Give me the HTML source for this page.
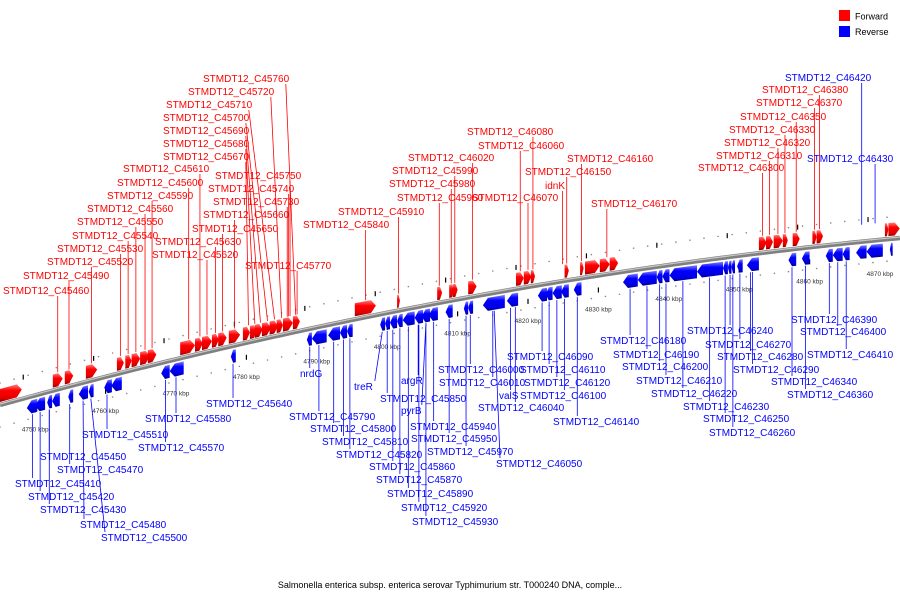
<!DOCTYPE html>
<html><head><meta charset="utf-8"><style>
html,body{margin:0;padding:0;background:#fff;}
svg{display:block;font-family:"Liberation Sans",sans-serif;}
</style></head><body>
<svg id="chart" width="900" height="600" viewBox="0 0 900 600">
<defs>
<linearGradient id="gr" x1="0" y1="0" x2="0" y2="1"><stop offset="0" stop-color="#ff8080"/><stop offset="0.35" stop-color="#ff0000"/><stop offset="0.8" stop-color="#e00000"/><stop offset="1" stop-color="#800000"/></linearGradient>
<linearGradient id="gb" x1="0" y1="0" x2="0" y2="1"><stop offset="0" stop-color="#8080ff"/><stop offset="0.35" stop-color="#0000ff"/><stop offset="0.8" stop-color="#0000e0"/><stop offset="1" stop-color="#000080"/></linearGradient>
</defs>
<g>
<rect x="839" y="10" width="11" height="11" fill="#ff0000"/>
<text x="855" y="19.5" font-size="9" fill="#000">Forward</text>
<rect x="839" y="26" width="11" height="11" fill="#0000ff"/>
<text x="855" y="35" font-size="9" fill="#000">Reverse</text>
</g>
<text x="450" y="588" font-size="9" text-anchor="middle" fill="#000">Salmonella enterica subsp. enterica serovar Typhimurium str. T000240 DNA, comple...</text>
<g id="layer"></g>
</svg>
<script>
const fwdStart=[4745.0,4752.5,4754.2,4757.2,4761.6,4762.8,4763.7,4764.9,4766.0,4770.6,4772.7,4773.7,4775.1,4776.0,4777.5,4779.5,4780.5,4781.2,4782.2,4783.3,4784.3,4785.2,4786.6,4795.4,4801.4,4807.1,4808.8,4809.3,4811.5,4818.3,4819.4,4820.4,4825.2,4827.4,4828.1,4830.2,4831.6,4852.8,4853.8,4854.9,4856.2,4857.6,4860.4,4861.0,4870.7,4871.2];
const fwdEnd=[4748.1,4753.9,4755.4,4758.8,4762.6,4763.7,4764.9,4766.3,4767.2,4772.7,4773.8,4775.1,4776.1,4777.2,4779.1,4780.5,4781.5,4782.3,4783.5,4784.5,4785.2,4786.6,4787.6,4798.4,4801.8,4807.8,4809.5,4810.0,4812.7,4819.4,4820.5,4821.0,4825.8,4827.9,4830.2,4831.6,4832.8,4853.9,4854.8,4856.2,4856.9,4858.6,4861.0,4861.9,4871.2,4872.8];
const revStart=[4748.8,4750.0,4751.7,4752.4,4754.7,4756.2,4757.6,4759.8,4760.8,4767.9,4769.1,4777.8,4788.6,4789.3,4791.6,4793.3,4794.3,4799.0,4799.7,4800.4,4801.4,4802.2,4803.9,4804.9,4805.9,4808.3,4810.9,4811.5,4813.6,4817.0,4821.4,4822.5,4823.5,4824.7,4826.5,4833.5,4835.6,4838.3,4839.1,4840.1,4844.0,4847.7,4848.4,4848.9,4849.7,4851.1,4857.0,4858.9,4862.3,4863.3,4864.7,4866.6,4868.1,4871.4];
const revEnd=[4750.3,4751.4,4752.4,4753.5,4755.4,4757.5,4758.3,4760.9,4762.3,4769.1,4771.1,4778.5,4789.3,4791.4,4793.3,4794.3,4795.1,4799.7,4800.4,4801.4,4802.2,4803.9,4805.1,4806.1,4807.2,4809.3,4811.5,4812.2,4816.7,4818.6,4822.7,4823.5,4824.8,4825.8,4827.6,4835.6,4838.3,4839.1,4840.1,4844.0,4847.7,4848.4,4848.9,4849.4,4850.5,4852.8,4858.1,4860.0,4863.3,4864.7,4865.7,4868.1,4870.4,4871.8];
const tickKbp=[4750,4760,4770,4780,4790,4800,4810,4820,4830,4840,4850,4860,4870];
const tickLabels=["4750 kbp","4760 kbp","4770 kbp","4780 kbp","4790 kbp","4800 kbp","4810 kbp","4820 kbp","4830 kbp","4840 kbp","4850 kbp","4860 kbp","4870 kbp"];
const fwdNames=["STMDT12_C45760","STMDT12_C45720","STMDT12_C45710","STMDT12_C45700","STMDT12_C45690","STMDT12_C45680","STMDT12_C45670","STMDT12_C45610","STMDT12_C45750","STMDT12_C45600","STMDT12_C45740","STMDT12_C45590","STMDT12_C45730","STMDT12_C45560","STMDT12_C45660","STMDT12_C45550","STMDT12_C45650","STMDT12_C45540","STMDT12_C45630","STMDT12_C45530","STMDT12_C45620","STMDT12_C45520","STMDT12_C45770","STMDT12_C45490","STMDT12_C45460","STMDT12_C45840","STMDT12_C45910","STMDT12_C45960","STMDT12_C45980","STMDT12_C45990","STMDT12_C46020","STMDT12_C46060","STMDT12_C46080","STMDT12_C46070","STMDT12_C46160","STMDT12_C46150","idnK","STMDT12_C46170","STMDT12_C46300","STMDT12_C46310","STMDT12_C46320","STMDT12_C46330","STMDT12_C46350","STMDT12_C46370","STMDT12_C46380"];
const fwdLabelX=[203,188,166,163,163,163,163,123,215,117,208,107,213,87,203,77,192,72,155,57,152,47,245,23,3,303,338,397,389,392,408,478,467,472,567,525,545,591,698,716,724,729,740,756,762];
const fwdLabelY=[82,95,108,121,134,147,160,172,179,186,192,199,205,212,218,225,232,239,245,252,258,265,269,279,294,228,215,201,187,174,161,149,135,201,162,175,189,207,171,159,146,133,120,106,93];
const fwdTarget=[4787.0,4785.0,4784.0,4783.0,4782.0,4781.2,4780.3,4773.4,4786.2,4771.8,4786.0,4766.6,4785.8,4765.6,4778.3,4764.3,4776.6,4763.2,4775.6,4762.1,4774.4,4758.0,4787.2,4754.8,4753.2,4796.9,4801.6,4807.4,4809.1,4809.6,4812.1,4818.9,4820.7,4820.0,4827.6,4825.5,4824.9,4831.2,4853.3,4854.3,4855.5,4856.5,4858.1,4860.7,4861.4];
const revNames=["STMDT12_C45640","STMDT12_C45580","STMDT12_C45510","STMDT12_C45570","STMDT12_C45450","STMDT12_C45470","STMDT12_C45410","STMDT12_C45420","STMDT12_C45430","STMDT12_C45480","STMDT12_C45500","nrdG","treR","argR","STMDT12_C45790","STMDT12_C45850","pyrB","STMDT12_C45800","STMDT12_C45810","STMDT12_C45820","STMDT12_C45860","STMDT12_C45870","STMDT12_C45890","STMDT12_C45920","STMDT12_C45930","STMDT12_C45940","STMDT12_C45950","STMDT12_C45970","STMDT12_C46050","STMDT12_C46000","STMDT12_C46090","STMDT12_C46110","STMDT12_C46010","STMDT12_C46120","valS","STMDT12_C46100","STMDT12_C46040","STMDT12_C46140","STMDT12_C46180","STMDT12_C46190","STMDT12_C46200","STMDT12_C46210","STMDT12_C46220","STMDT12_C46230","STMDT12_C46250","STMDT12_C46260","STMDT12_C46240","STMDT12_C46270","STMDT12_C46280","STMDT12_C46290","STMDT12_C46340","STMDT12_C46360","STMDT12_C46390","STMDT12_C46400","STMDT12_C46410","STMDT12_C46420","STMDT12_C46430"];
const revLabelX=[206,145,82,138,40,57,15,28,40,80,101,300,354,401,289,380,401,310,322,336,369,376,387,401,412,410,411,427,496,438,507,520,439,524,499,520,478,553,600,613,622,636,651,683,703,709,687,705,717,733,771,787,791,800,807,785,807];
const revLabelY=[407,422,438,451,460,473,487,500,513,528,541,377,390,384,420,402,414,432,445,458,470,483,497,511,525,430,442,455,467,373,360,373,386,386,399,399,411,425,344,358,370,384,397,410,422,436,334,348,360,373,385,398,323,335,358,81,162];
const revTarget=[4778.1,4770.0,4760.2,4768.5,4752.0,4754.9,4749.6,4750.7,4752.0,4756.8,4757.9,4789.0,4799.3,4804.4,4790.3,4800.0,4805.5,4792.4,4793.8,4794.7,4800.8,4801.8,4803.0,4804.5,4805.5,4806.6,4808.8,4811.2,4815.2,4811.8,4822.0,4823.0,4815.0,4824.1,4817.5,4825.2,4818.2,4827.0,4834.5,4836.9,4838.7,4839.6,4842.0,4845.8,4848.0,4849.1,4848.7,4850.1,4851.6,4851.9,4857.5,4859.4,4862.8,4864.0,4865.2,4867.4,4869.3];

const NS="http://www.w3.org/2000/svg";
const layer=document.getElementById('layer');
function xOf(k){return (k-4745)*7.04;}
function yOf(x){const t=x/900;return (1-t)*(1-t)*405+2*t*(1-t)*280+t*t*238;}
function mk(tag,attrs){const e=document.createElementNS(NS,tag);for(const a in attrs)e.setAttribute(a,attrs[a]);return e;}

let d="M0 "+yOf(0);
for(let x=5;x<=900;x+=5)d+=" L"+x+" "+yOf(x).toFixed(2);
const bb=mk('path',{d:d,fill:'none',stroke:'#808080','stroke-width':4.5});


layer.appendChild(bb);
const bb2=mk('path',{d:d,fill:'none',stroke:'#c8c8c8','stroke-width':1.2,transform:'translate(0,-1)'});


layer.appendChild(bb2);

for(let k=4745;k<=4873;k+=2){
  const x=xOf(k);
  [-22,22].forEach(o=>{
    const c=mk('circle',{cx:x,cy:yOf(x)+o,r:0.8,fill:'#888'});
    
    
    layer.appendChild(c);
  });
}
tickKbp.forEach((k,i)=>{
  const x=xOf(k);const y=yOf(x);
  const t=mk('line',{x1:x,y1:y+12,x2:x,y2:y+17,stroke:'#000','stroke-width':1.2});
  
  
  layer.appendChild(t);
  const xa=xOf(k-1.7);const ya=yOf(xa);
  const t2=mk('line',{x1:xa,y1:ya-24,x2:xa,y2:ya-19,stroke:'#000','stroke-width':1.2});
  
  
  layer.appendChild(t2);
  const l=mk('text',{x:x,y:y+36,'font-size':6.5,'text-anchor':'middle',fill:'#333'});
  l.textContent=tickLabels[i];
  
  
  layer.appendChild(l);
});

function gene(k1,k2,fwd){
  const x1=xOf(k1),x2=xOf(k2);const len=x2-x1;
  const aw=Math.min(5,len*0.45);
  const o1=fwd?-16:4,o2=fwd?-3:17,om=(o1+o2)/2;
  let pts;
  if(fwd){const xb=x2-aw;pts=[[x1,yOf(x1)+o1],[xb,yOf(xb)+o1],[x2,yOf(x2)+om],[xb,yOf(xb)+o2],[x1,yOf(x1)+o2]];}
  else{const xb=x1+aw;pts=[[x1,yOf(x1)+om],[xb,yOf(xb)+o1],[x2,yOf(x2)+o1],[x2,yOf(x2)+o2],[xb,yOf(xb)+o2]];}
  const p=mk('polygon',{points:pts.map(q=>q[0].toFixed(1)+','+q[1].toFixed(1)).join(' '),fill:fwd?'url(#gr)':'url(#gb)'});
  
  
  layer.appendChild(p);
}
fwdStart.forEach((s,i)=>gene(s,fwdEnd[i],true));
revStart.forEach((s,i)=>gene(s,revEnd[i],false));

function label(name,lx,ly,tk,fwd,col,above){
  const w=name.length*6.2;
  const tx=xOf(tk);
  const sx=Math.max(lx+4,Math.min(tx,lx+w-4));
  const sy=above?ly+2:ly-9;
  const ey=yOf(tx)+(fwd?-17:(above?-17:18));
  const ln=mk('line',{x1:sx,y1:sy,x2:tx,y2:ey,stroke:col,'stroke-width':0.8});
  
  
  layer.appendChild(ln);
  const t=mk('text',{x:lx,y:ly,'font-size':10,fill:col});
  t.textContent=name;
  
  
  layer.appendChild(t);
}
fwdNames.forEach((n,i)=>label(n,fwdLabelX[i],fwdLabelY[i],fwdTarget[i],true,'#ff0000',true));
revNames.forEach((n,i)=>label(n,revLabelX[i],revLabelY[i],revTarget[i],false,'#0000ff',revLabelY[i]<200));
</script>
</body></html>
